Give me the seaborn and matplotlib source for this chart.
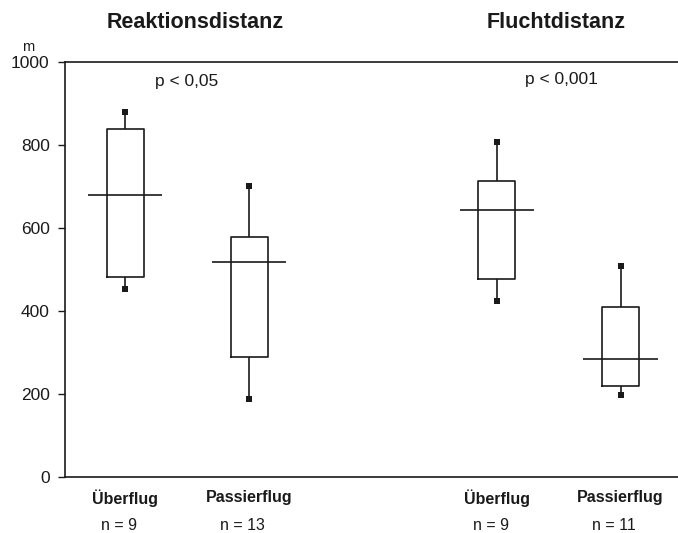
import numpy as np
import pandas as pd
import matplotlib
matplotlib.use('Agg')
import matplotlib.pyplot as plt
import seaborn as sns

# box summaries: min, q1, median, q3, max (m)
positions = [0, 1, 3, 4]
flight_types = ['Überflug', 'Passierflug', 'Überflug', 'Passierflug']
n_labels = ['n = 9', 'n = 13', 'n = 9', 'n = 11']
reak_ueber = [452, 483, 680, 839, 879]
reak_passier = [189, 288, 519, 579, 701]
flucht_ueber = [424, 476, 644, 714, 806]
flucht_passier = [198, 219, 284, 409, 509]
group_titles = ['Reaktionsdistanz', 'Fluchtdistanz']
p_values = ['p < 0,05', 'p < 0,001']
y_ticks = [0, 200, 400, 600, 800, 1000]

boxes = [reak_ueber, reak_passier, flucht_ueber, flucht_passier]

# with 5 values the linear quantiles hit the summary values exactly
df = pd.DataFrame({
    'pos': np.repeat(positions, 5),
    'value': np.concatenate(boxes),
})
ends = pd.DataFrame({
    'pos': positions * 2,
    'value': [b[0] for b in boxes] + [b[4] for b in boxes],
})
medians = [b[2] for b in boxes]

sns.set_style('ticks')
plt.rcParams['font.family'] = ['Liberation Sans', 'DejaVu Sans']

ink = '#1a1a1a'
fig = plt.figure(figsize=(6.78, 5.33), dpi=100)
ax = fig.add_axes([0.0959, 0.105, 0.9041, 0.7788])

sns.boxplot(data=df, x='pos', y='value', native_scale=True, width=0.3,
            whis=(0, 100), fill=False, color=ink, linewidth=1.2,
            showcaps=False, medianprops={'visible': False}, ax=ax)

# median lines stick out on both sides of the box
ax.hlines(medians, np.array(positions) - 0.3, np.array(positions) + 0.3,
          color=ink, linewidth=1.2)

sns.scatterplot(data=ends, x='pos', y='value', marker='s', s=16,
                color=ink, linewidth=0, ax=ax, legend=False)

ax.set_xlim(-0.487, 4.464)
ax.set_ylim(0, 1000)
ax.set_yticks(y_ticks)
ax.set_xticks(positions)
ax.set_xticklabels(flight_types, fontsize=11.5, fontweight='bold', color=ink)
ax.tick_params(axis='x', length=0, pad=9)
ax.tick_params(axis='y', length=5, width=1, pad=6, labelsize=12.5,
               colors=ink)
ax.set_xlabel('')
ax.set_ylabel('')

for side in ['left', 'top', 'bottom']:
    ax.spines[side].set_color(ink)
    ax.spines[side].set_linewidth(1.2)
ax.spines['right'].set_visible(False)

for x, lab in zip(positions, n_labels):
    ax.text(x - 0.05, -116, lab, ha='center', va='center', fontsize=11.5,
            color=ink, clip_on=False)

ax.text(0.563, 1094, group_titles[0], ha='center', va='center',
        fontsize=15.5, fontweight='bold', color=ink, clip_on=False)
ax.text(3.479, 1094, group_titles[1], ha='center', va='center',
        fontsize=15.5, fontweight='bold', color=ink, clip_on=False)
ax.text(0.498, 952, p_values[0], ha='center', va='center', fontsize=12.5,
        color=ink)
ax.text(3.523, 957, p_values[1], ha='center', va='center', fontsize=12.5,
        color=ink)
ax.text(-0.06, 1.035, 'm', transform=ax.transAxes, ha='center',
        va='center', fontsize=10.5, color=ink)

fig.savefig('out.png', dpi=100)
